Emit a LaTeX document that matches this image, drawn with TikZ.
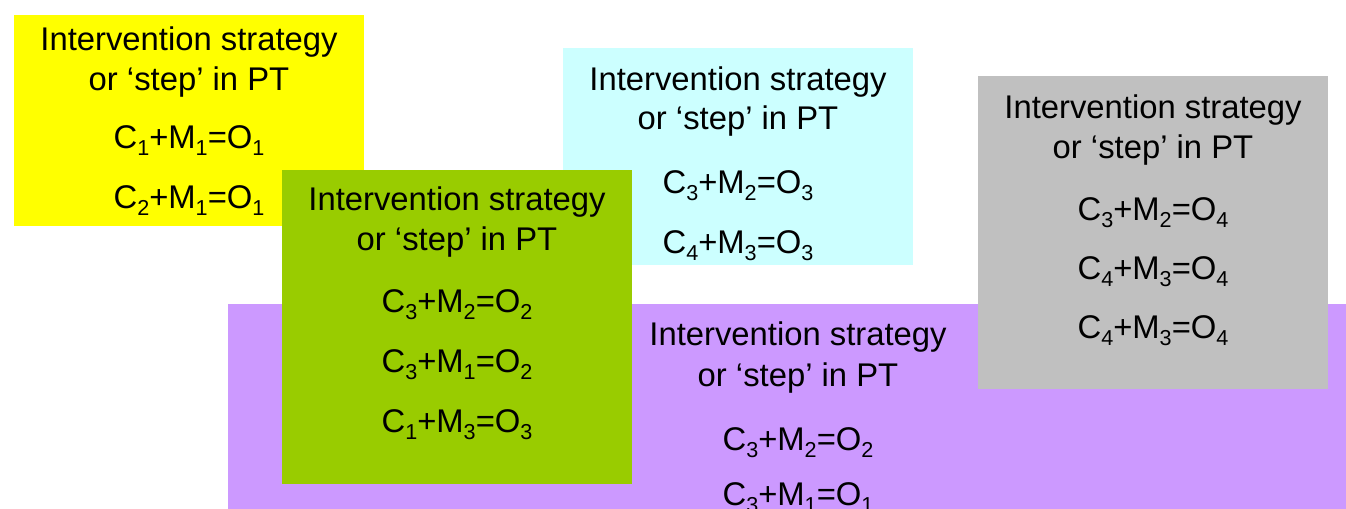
\documentclass[tikz,border=0pt]{standalone}
\usepackage{fontspec}
\setmainfont{Liberation Sans}
\definecolor{yel}{HTML}{FFFF00}
\definecolor{cya}{HTML}{CCFFFF}
\definecolor{grn}{HTML}{99CC00}
\definecolor{gry}{HTML}{C0C0C0}
\definecolor{pur}{HTML}{CC99FF}
\newcommand{\sbs}[1]{\raisebox{-0.23em}{\fontsize{10.8}{12}\selectfont #1}}
\newcommand{\frm}[3]{C\sbs{#1}+M\sbs{#2}=O\sbs{#3}}
\begin{document}
\begin{tikzpicture}[x=0.5pt,y=-0.5pt,
  txt/.style={anchor=base,inner sep=0pt,font=\fontsize{16.4}{19.7}\selectfont,text=black}]
\useasboundingbox (0,0) rectangle (1346,509);
\clip (0,0) rectangle (1346,509);
% purple box
\fill[pur] (228,304) rectangle (1360,530);
\node[txt] (p1) at (798,345) {Intervention strategy};
\node[txt] (p2) at (798,386) {or ‘step’ in PT};
\node[txt] (p3) at (798,450) {\frm{3}{2}{2}};
\node[txt] (p4) at (798,505) {\frm{3}{1}{1}};
% yellow box
\fill[yel] (14,15) rectangle (364,226);
\node[txt] (y1) at (189,50) {Intervention strategy};
\node[txt] (y2) at (189,90) {or ‘step’ in PT};
\node[txt] (y3) at (189,148) {\frm{1}{1}{1}};
\node[txt] (y4) at (189,208) {\frm{2}{1}{1}};
% cyan box
\fill[cya] (563,48) rectangle (913,265);
\node[txt] (c1) at (738,90) {Intervention strategy};
\node[txt] (c2) at (738,129) {or ‘step’ in PT};
\node[txt] (c3) at (738,193) {\frm{3}{2}{3}};
\node[txt] (c4) at (738,253) {\frm{4}{3}{3}};
% green box
\fill[grn] (282,170) rectangle (632,484);
\node[txt] (g1) at (457,210) {Intervention strategy};
\node[txt] (g2) at (457,250) {or ‘step’ in PT};
\node[txt] (g3) at (457,312) {\frm{3}{2}{2}};
\node[txt] (g4) at (457,372) {\frm{3}{1}{2}};
\node[txt] (g5) at (457,432) {\frm{1}{3}{3}};
% gray box
\fill[gry] (978,76) rectangle (1328,389);
\node[txt] (k1) at (1153,118) {Intervention strategy};
\node[txt] (k2) at (1153,158) {or ‘step’ in PT};
\node[txt] (k3) at (1153,220) {\frm{3}{2}{4}};
\node[txt] (k4) at (1153,279) {\frm{4}{3}{4}};
\node[txt] (k5) at (1153,338) {\frm{4}{3}{4}};
\end{tikzpicture}
\end{document}
